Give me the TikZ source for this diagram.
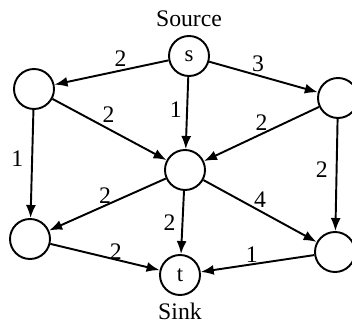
\documentclass[tikz,border=0pt]{standalone}
\usepackage{fontspec}
\setmainfont{Liberation Serif}
\usetikzlibrary{arrows.meta, positioning}

\begin{document}
\begin{tikzpicture}[
    vertex/.style={draw, circle, line width=1.1pt, minimum size=0.8cm, inner sep=0pt, font=\fontsize{13}{15}\selectfont},
    arrow/.style={-{Latex[length=2.6mm, width=2mm]}, line width=1.1pt},
    txt/.style={font=\fontsize{13.5}{15}\selectfont},
    lbl/.style={txt, inner sep=1.5pt}
]
    \useasboundingbox (0,0) rectangle (7.04,6.58);

    % Vertices
    \node[vertex] (s) at (3.78,5.46) {s};
    \node[vertex] (a) at (0.68,4.80) {};
    \node[vertex] (b) at (6.76,4.62) {};
    \node[vertex] (m) at (3.70,3.18) {};
    \node[vertex] (c) at (0.60,1.80) {};
    \node[vertex] (t) at (3.60,1.08) {t};
    \node[vertex] (d) at (6.70,1.54) {};

    % Captions
    \node[txt, above=0.05cm of s] (source) {Source};
    \node[txt, below=0.02cm of t] (sink) {Sink};

    % Arrows
    \draw[arrow] (s) -- node[lbl, pos=0.42, above] {2} (a);
    \draw[arrow] (s) -- node[lbl, pos=0.45, above] {3} (b);
    \draw[arrow] (s) -- node[lbl, pos=0.45, left=1pt] {1} (m);
    \draw[arrow] (a) -- node[lbl, pos=0.47, above right=1pt and -4pt] {2} (m);
    \draw[arrow] (b) -- node[lbl, pos=0.5, above] {2} (m);
    \draw[arrow] (a) -- node[lbl, pos=0.45, left=3pt] {1} (c);
    \draw[arrow] (b) -- node[lbl, pos=0.45, left=3pt] {2} (d);
    \draw[arrow] (m) -- node[lbl, pos=0.52, above=-1pt] {2} (c);
    \draw[arrow] (m) -- node[lbl, pos=0.5, left=2pt] {2} (t);
    \draw[arrow] (m) -- node[lbl, pos=0.5, above] {4} (d);
    \draw[arrow] (c) -- node[lbl, pos=0.6, above=-2pt] {2} (t);
    \draw[arrow] (d) -- node[lbl, pos=0.55, above=-1pt] {1} (t);
\end{tikzpicture}
\end{document}
